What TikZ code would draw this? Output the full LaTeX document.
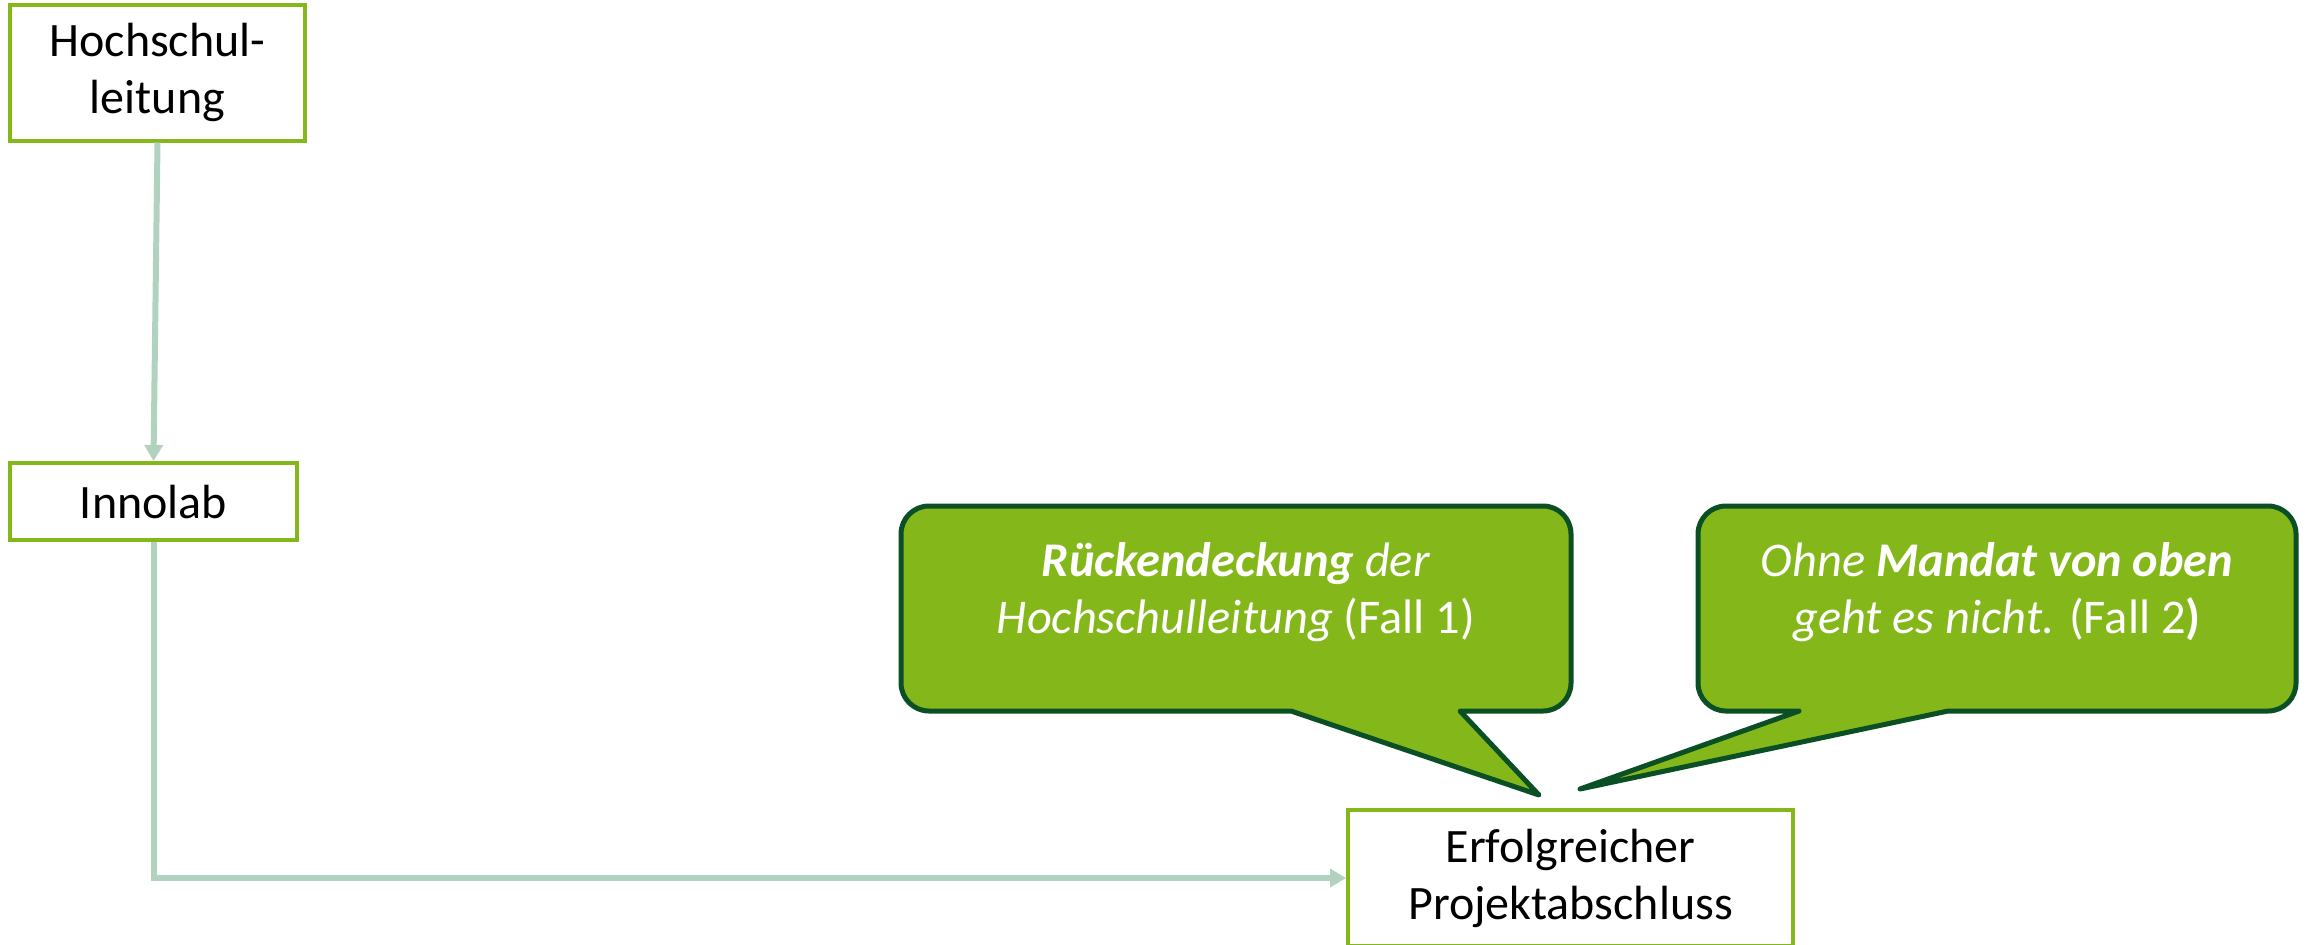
\documentclass[tikz,border=0pt]{standalone}
\usepackage{fontspec}
\setmainfont{Carlito}
\usetikzlibrary{arrows.meta}

\definecolor{boxgreen}{HTML}{84B81A}
\definecolor{linkgreen}{HTML}{B2D2C0}
\definecolor{darkgreen}{HTML}{0B4F25}

\begin{document}
\begin{tikzpicture}[x=0.5pt,y=-0.5pt,
                    box/.style={draw=boxgreen,line width=2pt,fill=white,align=center,
                                font=\fontsize{24}{28.5}\selectfont,inner sep=0pt},
                    link/.style={draw=linkgreen,line width=3pt,
                                 -{Triangle[width=9pt,length=8pt]}},
                    callout/.style={draw=darkgreen,fill=boxgreen,line width=2.5pt,
                                    line join=round},
                    callouttext/.style={text=white,align=center,
                                        font=\fontsize{24.2}{28.5}\selectfont}]

  \useasboundingbox (0,0) rectangle (2305,944);

  \node[box,minimum width=147.5pt,minimum height=68pt]   (hl)  at (157.5,72.5) {Hochschul-\\leitung};
  \node[box,minimum width=143.5pt,minimum height=38.5pt] (inno) at (153.5,501.5) {Innolab};
  \node[box,minimum width=222.5pt,minimum height=68pt]   (erf) at (1570.5,878) {Erfolgreicher\\Projektabschluss};

  % Verbindungen
  \draw[link] (hl.south) -- (inno.north);
  \draw[link] (inno.south) |- (erf.west);

  % Sprechblasen
  \coordinate (tip1) at (1539,795);
  \coordinate (tip2) at (1580,789);
  \draw[callout] (tip1) -- (1460,711) [rounded corners=14pt] -- (1571,711) -- (1571,506)
        -- (901,506) -- (901,711) [sharp corners] -- (1291,711) -- cycle;
  \draw[callout] (tip2) -- (1948,711) [rounded corners=14pt] -- (2296,711) -- (2296,506)
        -- (1698,506) -- (1698,711) [sharp corners] -- (1799,711) -- cycle;

  \node[callouttext] (fall1) at (1236,592)
    {\textbf{\textit{Rückendeckung}} \textit{der}\\\textit{Hochschulleitung} (Fall 1)};
  \node[callouttext] (fall2) at (1997,592)
    {\textit{Ohne \textbf{Mandat von oben}}\\\textit{geht es nicht.} (Fall 2\textbf{)}};
\end{tikzpicture}
\end{document}
